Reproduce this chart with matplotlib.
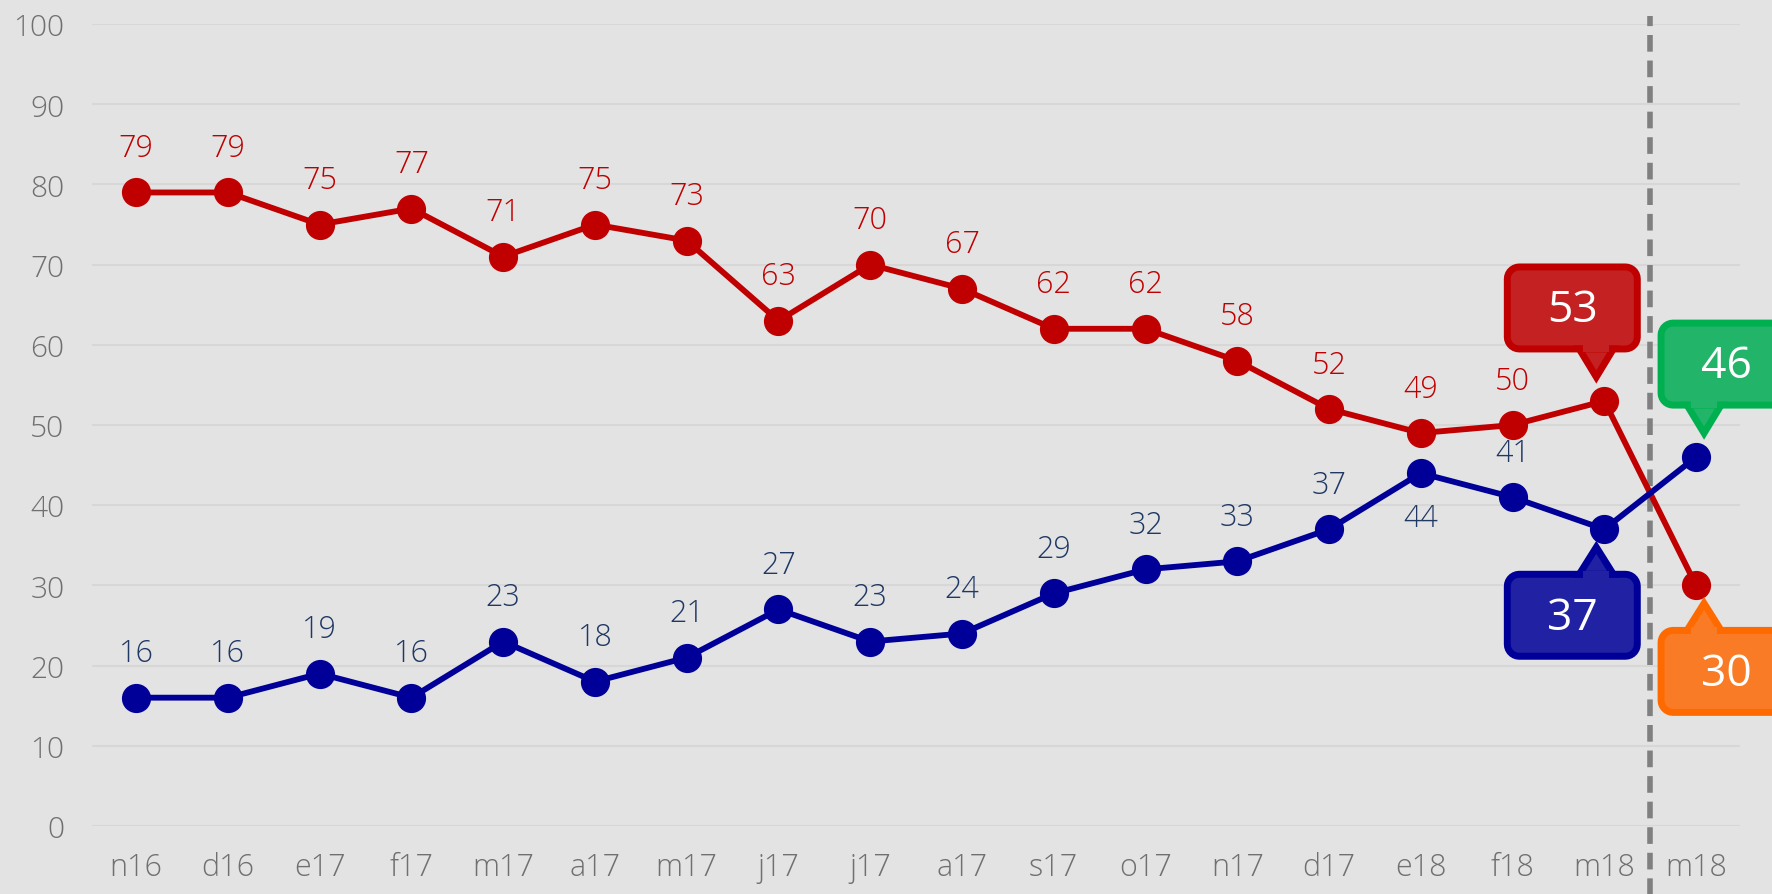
import matplotlib
matplotlib.use("Agg")
import matplotlib.pyplot as plt
import matplotlib.transforms as mtransforms
from matplotlib.patches import Polygon
import numpy as np

months = ["n16", "d16", "e17", "f17", "m17", "a17", "m17", "j17", "j17", "a17",
          "s17", "o17", "n17", "d17", "e18", "f18", "m18", "m18"]
red_values = [79, 79, 75, 77, 71, 75, 73, 63, 70, 67, 62, 62, 58, 52, 49, 50, 53, 30]
blue_values = [16, 16, 19, 16, 23, 18, 21, 27, 23, 24, 29, 32, 33, 37, 44, 41, 37, 46]
blue_below = [14]          # indices whose blue label sits under the point
callout_idx = [16, 17]     # last two points get callout boxes instead of labels

BG = "#E3E3E3"
GRID = "#D7D7D7"
RED = "#C00000"
BLUE = "#000099"
RED_TXT = "#C00000"
BLUE_TXT = "#1F3864"
TICK = "#707070"

plt.rcParams["font.family"] = ["Open Sans", "DejaVu Sans"]

fig = plt.figure(figsize=(17.72, 8.95), dpi=100, facecolor=BG)
ax = fig.add_axes([0.052, 0.076, 0.93, 0.896], facecolor=BG)

x = np.arange(len(months))
ax.plot(x, red_values, color=RED, lw=4.2, marker="o", ms=20, zorder=3)
ax.plot(x, blue_values, color=BLUE, lw=4.2, marker="o", ms=20, zorder=3)

ax.set_xlim(-0.48, 17.48)
ax.set_ylim(0, 100)
ax.set_yticks(range(0, 101, 10))
ax.set_xticks(x)
ax.set_xticklabels(months)
ax.tick_params(axis="y", length=0, pad=20, labelsize=21.5, labelcolor=TICK)
ax.tick_params(axis="x", length=0, pad=18, labelsize=22, labelcolor=TICK)
for lab in ax.get_xticklabels() + ax.get_yticklabels():
    lab.set_fontweight("light")
ax.grid(axis="y", color=GRID, lw=1.5, zorder=0)
for s in ax.spines.values():
    s.set_visible(False)

# data labels
for i in range(len(months)):
    if i in callout_idx:
        continue
    ax.annotate(str(red_values[i]), (x[i], red_values[i]), xytext=(0, 32),
                textcoords="offset points", ha="center", va="center",
                fontsize=22, color=RED_TXT, fontweight="light")
    dy = -32 if i in blue_below else 32
    ax.annotate(str(blue_values[i]), (x[i], blue_values[i]), xytext=(0, dy),
                textcoords="offset points", ha="center", va="center",
                fontsize=22, color=BLUE_TXT, fontweight="light")

# dashed separator before the last month
ax.axvline(16.5, ymin=-0.12, ymax=1.01, color="#808080", lw=4,
           ls=(0, (3, 1.6)), clip_on=False, zorder=2)


def rounded_rect(x0, y0, x1, y1, r, n=8):
    pts = []
    corners = [(x1 - r, y1 - r, 0), (x0 + r, y1 - r, 90),
               (x0 + r, y0 + r, 180), (x1 - r, y0 + r, 270)]
    for cx, cy, a0 in corners:
        for t in np.linspace(np.radians(a0), np.radians(a0 + 90), n):
            pts.append((cx + r * np.cos(t), cy + r * np.sin(t)))
    return pts


def callout(xi, yi, text, face, edge, side, above):
    # geometry in pixels relative to the data point
    w, h = 130, 82
    bx0 = -97 if side == "left" else -35
    tipx = -8 if side == "left" else 8
    if above:
        by0, tip = 52, 24
        base = by0
    else:
        by0, tip = -127, -18
        base = by0 + h
    trans = mtransforms.Affine2D() + mtransforms.ScaledTranslation(xi, yi, ax.transData)
    box = Polygon(rounded_rect(bx0, by0, bx0 + w, by0 + h, 12), closed=True,
                  facecolor=face, edgecolor=edge, lw=5, transform=trans,
                  clip_on=False, zorder=5)
    ax.add_patch(box)
    tri = Polygon([(tipx - 17, base), (tipx + 17, base), (tipx, tip)], closed=True,
                  facecolor=face, edgecolor=edge, lw=5, joinstyle="miter",
                  transform=trans, clip_on=False, zorder=5)
    ax.add_patch(tri)
    s = 1 if above else -1
    cover = Polygon([(tipx - 13, base + 4 * s), (tipx + 13, base + 4 * s),
                     (tipx + 13, base - 3 * s), (tipx - 13, base - 3 * s)],
                    closed=True, facecolor=face, edgecolor="none",
                    transform=trans, clip_on=False, zorder=6)
    ax.add_patch(cover)
    ax.text(bx0 + w / 2, by0 + h / 2 - 2, text, transform=trans, ha="center", va="center",
            fontsize=32, color="white", zorder=7, clip_on=False)


callout(x[16], red_values[16], str(red_values[16]), "#C42222", RED, "left", True)
callout(x[16], blue_values[16], str(blue_values[16]), "#2121A3", BLUE, "left", False)
callout(x[17], blue_values[17], str(blue_values[17]), "#22B56A", "#00B050", "right", True)
callout(x[17], red_values[17], str(red_values[17]), "#FA7B25", "#FF6A00", "right", False)

fig.savefig("out.png", dpi=100, facecolor=BG)
